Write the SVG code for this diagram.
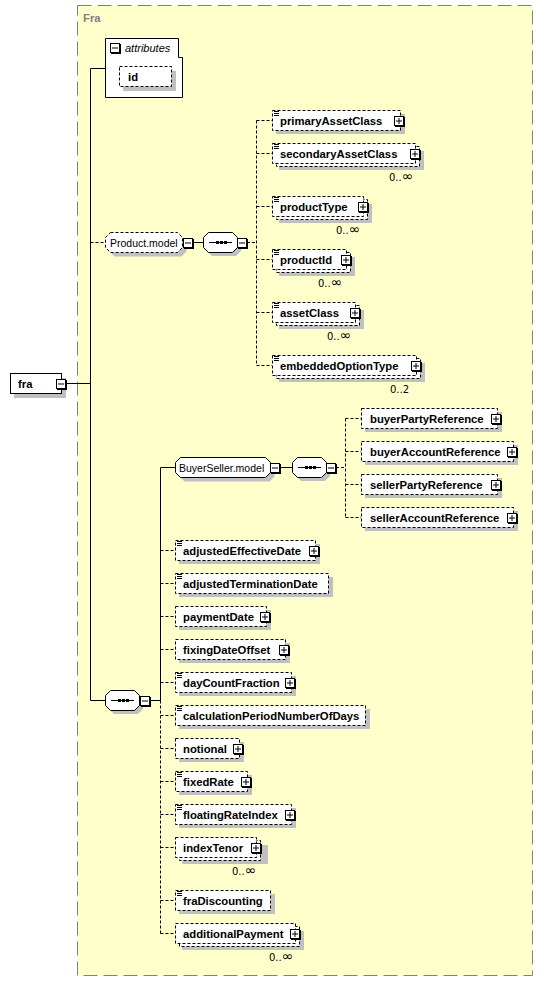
<svg xmlns="http://www.w3.org/2000/svg" width="543" height="981" viewBox="0 0 543 981">
<defs>
<style>
.bg{fill:#ffffcc;stroke:#808080;stroke-dasharray:14 6}
.e{fill:#fff;stroke:#000;stroke-dasharray:3 2}
.s{fill:#fff;stroke:#000}
.sh{fill:#c0c0c0}
.l{fill:none;stroke:#000}
.d{fill:none;stroke:#000;stroke-dasharray:3 2}
.t{font-family:"Liberation Sans",Arial,sans-serif;font-size:11.3px;font-weight:bold;fill:#000}
.n{font-family:"Liberation Sans",Arial,sans-serif;font-size:10.5px;fill:#000}
.o{font-family:"DejaVu Sans","Liberation Sans",sans-serif;font-size:10px;fill:#000}
.inf{font-size:14px}
</style>
<g id="plus"><rect x="1" y="1" width="10" height="10" fill="#000"/><rect x="0.5" y="0.5" width="9" height="9" fill="#fff" stroke="#000"/><path d="M2,5H8M5,2V8" stroke="#000"/></g>
<g id="minus"><rect x="1" y="1" width="10" height="10" fill="#000"/><rect x="0.5" y="0.5" width="9" height="9" fill="#fff" stroke="#000"/><path d="M2,5H8" stroke="#000"/></g>
<path id="eq" d="M0,0.5h5M0,2.5h5M0,4.5h5" stroke="#000"/>
<g id="seq">
<path class="sh" d="M9,4H33L38,9V19L33,24H9L4,19V9Z"/>
<path class="s" d="M5.5,0.5H29.5L34.5,5.5V15.5L29.5,20.5H5.5L0.5,15.5V5.5Z"/>
<path d="M6,10.5H29" stroke="#000"/>
<rect x="13" y="9" width="3" height="3"/><rect x="17" y="9" width="3" height="3"/><rect x="21" y="9" width="3" height="3"/>
</g>
</defs>

<g id="Fra">
<rect class="bg" x="77.5" y="5.5" width="455" height="970"/>
<text x="83" y="22" font-family="Liberation Sans, Arial, sans-serif" font-size="11.3" font-weight="bold" fill="#808080">Fra</text>
</g>

<g id="connectors">
<path class="l" d="M66,383.5H90.5M90.5,68.5V700.5M90.5,68.5H105M90.5,700.5H105"/>
<path class="d" d="M90.5,242.5H105"/>
<path class="l" d="M192,242.5H203"/>
<path class="d" d="M247,242.5H256.5M256.5,120.5V365.5M256.5,120.5H272M256.5,153.5H272M256.5,206.5H272M256.5,259.5H272M256.5,312.5H272M256.5,365.5H272"/>
<path class="l" d="M150,700.5H160.5M160.5,700.5V467.5H175"/>
<path class="d" d="M160.5,700.5V933.5M160.5,550.5H175M160.5,583.5H175M160.5,616.5H175M160.5,649.5H175M160.5,682.5H175M160.5,715.5H175M160.5,748.5H175M160.5,781.5H175M160.5,814.5H175M160.5,847.5H175M160.5,900.5H175M160.5,933.5H175"/>
<path class="l" d="M280,467.5H292"/>
<path class="d" d="M336,467.5H345.5M345.5,418.5V517.5M345.5,418.5H361M345.5,451.5H361M345.5,484.5H361M345.5,517.5H361"/>
</g>

<g id="fra">
<rect class="sh" x="14" y="378" width="52" height="20"/>
<rect class="s" x="10.5" y="373.5" width="51" height="20"/>
<text class="t" x="18" y="388">fra</text>
<use href="#minus" x="56" y="379"/>
</g>

<g id="attributes">
<path class="s" d="M105.5,38.5H178.5V57.5H182.5V97.5H105.5Z"/>
<use href="#minus" x="110" y="43"/>
<text x="125" y="52" font-family="Liberation Sans, Arial, sans-serif" font-size="11" font-style="italic">attributes</text>
</g>
<g id="id">
<rect class="sh" x="123" y="71" width="53" height="20"/>
<rect class="e" x="119.5" y="66.5" width="52" height="20"/>
<text class="t" x="128" y="80.5">id</text>
</g>

<g id="Product.model">
<path class="sh" d="M114.5,236.5H181.5L186.5,241.5V251.5L181.5,256.5H114.5L109.5,251.5V241.5Z"/>
<path class="e" d="M110.5,232.5H177.5L182.5,237.5V247.5L177.5,252.5H110.5L105.5,247.5V237.5Z"/>
<text class="n" x="110" y="246.5">Product.model</text>
<use href="#minus" x="183" y="238"/>
</g>
<g id="Product.model.sequence">
<use href="#seq" x="203" y="232"/>
<use href="#minus" x="237" y="238"/>
</g>

<g id="primaryAssetClass">
<rect class="sh" x="276" y="114" width="129" height="20"/>
<rect class="e" x="272.5" y="110.5" width="128" height="20"/>
<use href="#eq" x="274" y="111"/>
<text class="t" x="280" y="124.5">primaryAssetClass</text>
<use href="#plus" x="394" y="116"/>
</g>
<g id="secondaryAssetClass">
<rect class="sh" x="279" y="151" width="145" height="19"/>
<rect class="e" x="276.5" y="146.5" width="143" height="20"/>
<rect class="e" x="272.5" y="143.5" width="143" height="20"/>
<use href="#eq" x="274" y="144"/>
<text class="t" x="280" y="157.5">secondaryAssetClass</text>
<use href="#plus" x="410" y="149"/>
<text class="o" x="389" y="181">0..<tspan class="inf">∞</tspan></text>
</g>
<g id="productType">
<rect class="sh" x="279" y="204" width="93" height="19"/>
<rect class="e" x="276.5" y="199.5" width="91" height="20"/>
<rect class="e" x="272.5" y="196.5" width="91" height="20"/>
<use href="#eq" x="274" y="197"/>
<text class="t" x="280" y="210.5">productType</text>
<use href="#plus" x="358" y="202"/>
<text class="o" x="336" y="234">0..<tspan class="inf">∞</tspan></text>
</g>
<g id="productId">
<rect class="sh" x="279" y="257" width="76" height="19"/>
<rect class="e" x="276.5" y="252.5" width="74" height="20"/>
<rect class="e" x="272.5" y="249.5" width="74" height="20"/>
<use href="#eq" x="274" y="250"/>
<text class="t" x="280" y="263.5">productId</text>
<use href="#plus" x="341" y="255"/>
<text class="o" x="318" y="287">0..<tspan class="inf">∞</tspan></text>
</g>
<g id="assetClass">
<rect class="sh" x="279" y="310" width="85" height="19"/>
<rect class="e" x="276.5" y="305.5" width="83" height="20"/>
<rect class="e" x="272.5" y="302.5" width="83" height="20"/>
<use href="#eq" x="274" y="303"/>
<text class="t" x="280" y="316.5">assetClass</text>
<use href="#plus" x="350" y="308"/>
<text class="o" x="327" y="340">0..<tspan class="inf">∞</tspan></text>
</g>
<g id="embeddedOptionType">
<rect class="sh" x="279" y="363" width="146" height="19"/>
<rect class="e" x="276.5" y="358.5" width="144" height="20"/>
<rect class="e" x="272.5" y="355.5" width="144" height="20"/>
<use href="#eq" x="274" y="356"/>
<text class="t" x="280" y="369.5">embeddedOptionType</text>
<use href="#plus" x="411" y="361"/>
<text class="o" x="390" y="393">0..2</text>
</g>

<g id="sequence">
<use href="#seq" x="105" y="690"/>
<use href="#minus" x="140" y="696"/>
</g>

<g id="BuyerSeller.model">
<path class="sh" d="M184.5,461.5H269.5L274.5,466.5V476.5L269.5,481.5H184.5L179.5,476.5V466.5Z"/>
<path class="s" d="M180.5,457.5H265.5L270.5,462.5V472.5L265.5,477.5H180.5L175.5,472.5V462.5Z"/>
<text class="n" x="179" y="471.5">BuyerSeller.model</text>
<use href="#minus" x="270" y="463"/>
</g>
<g id="BuyerSeller.model.sequence">
<use href="#seq" x="292" y="457"/>
<use href="#minus" x="326" y="463"/>
</g>

<g id="buyerPartyReference">
<rect class="sh" x="365" y="412" width="137" height="20"/>
<rect class="e" x="361.5" y="408.5" width="136" height="20"/>
<text class="t" x="370" y="422.5">buyerPartyReference</text>
<use href="#plus" x="491" y="414"/>
</g>
<g id="buyerAccountReference">
<rect class="sh" x="365" y="445" width="153" height="20"/>
<rect class="e" x="361.5" y="441.5" width="152" height="20"/>
<text class="t" x="370" y="455.5">buyerAccountReference</text>
<use href="#plus" x="507" y="447"/>
</g>
<g id="sellerPartyReference">
<rect class="sh" x="365" y="478" width="137" height="20"/>
<rect class="e" x="361.5" y="474.5" width="136" height="20"/>
<text class="t" x="370" y="488.5">sellerPartyReference</text>
<use href="#plus" x="491" y="480"/>
</g>
<g id="sellerAccountReference">
<rect class="sh" x="365" y="511" width="153" height="20"/>
<rect class="e" x="361.5" y="507.5" width="152" height="20"/>
<text class="t" x="370" y="521.5">sellerAccountReference</text>
<use href="#plus" x="507" y="513"/>
</g>

<g id="adjustedEffectiveDate">
<rect class="sh" x="179" y="544" width="141" height="20"/>
<rect class="e" x="175.5" y="540.5" width="140" height="20"/>
<use href="#eq" x="177" y="541"/>
<text class="t" x="183" y="554.5">adjustedEffectiveDate</text>
<use href="#plus" x="309" y="546"/>
</g>
<g id="adjustedTerminationDate">
<rect class="sh" x="179" y="577" width="154" height="20"/>
<rect class="e" x="175.5" y="573.5" width="153" height="20"/>
<use href="#eq" x="177" y="574"/>
<text class="t" x="183" y="587.5">adjustedTerminationDate</text>
</g>
<g id="paymentDate">
<rect class="sh" x="179" y="610" width="92" height="20"/>
<rect class="e" x="175.5" y="606.5" width="91" height="20"/>
<text class="t" x="183" y="620.5">paymentDate</text>
<use href="#plus" x="260" y="612"/>
</g>
<g id="fixingDateOffset">
<rect class="sh" x="179" y="643" width="111" height="20"/>
<rect class="e" x="175.5" y="639.5" width="110" height="20"/>
<text class="t" x="183" y="653.5">fixingDateOffset</text>
<use href="#plus" x="279" y="645"/>
</g>
<g id="dayCountFraction">
<rect class="sh" x="179" y="676" width="117" height="20"/>
<rect class="e" x="175.5" y="672.5" width="116" height="20"/>
<use href="#eq" x="177" y="673"/>
<text class="t" x="183" y="686.5">dayCountFraction</text>
<use href="#plus" x="285" y="678"/>
</g>
<g id="calculationPeriodNumberOfDays">
<rect class="sh" x="179" y="709" width="191" height="20"/>
<rect class="e" x="175.5" y="705.5" width="190" height="20"/>
<use href="#eq" x="177" y="706"/>
<text class="t" x="183" y="719.5">calculationPeriodNumberOfDays</text>
</g>
<g id="notional">
<rect class="sh" x="179" y="742" width="65" height="20"/>
<rect class="e" x="175.5" y="738.5" width="64" height="20"/>
<text class="t" x="183" y="752.5">notional</text>
<use href="#plus" x="233" y="744"/>
</g>
<g id="fixedRate">
<rect class="sh" x="179" y="775" width="73" height="20"/>
<rect class="e" x="175.5" y="771.5" width="72" height="20"/>
<use href="#eq" x="177" y="772"/>
<text class="t" x="183" y="785.5">fixedRate</text>
<use href="#plus" x="241" y="777"/>
</g>
<g id="floatingRateIndex">
<rect class="sh" x="179" y="808" width="117" height="20"/>
<rect class="e" x="175.5" y="804.5" width="116" height="20"/>
<use href="#eq" x="177" y="805"/>
<text class="t" x="183" y="818.5">floatingRateIndex</text>
<use href="#plus" x="285" y="810"/>
</g>
<g id="indexTenor">
<rect class="sh" x="182" y="845" width="86" height="19"/>
<rect class="e" x="179.5" y="840.5" width="81" height="20"/>
<rect class="e" x="175.5" y="837.5" width="81" height="20"/>
<text class="t" x="183" y="851.5">indexTenor</text>
<use href="#plus" x="251" y="843"/>
<text class="o" x="232" y="875">0..<tspan class="inf">∞</tspan></text>
</g>
<g id="fraDiscounting">
<rect class="sh" x="179" y="894" width="96" height="20"/>
<rect class="e" x="175.5" y="890.5" width="95" height="20"/>
<use href="#eq" x="177" y="891"/>
<text class="t" x="183" y="904.5">fraDiscounting</text>
</g>
<g id="additionalPayment">
<rect class="sh" x="182" y="931" width="122" height="19"/>
<rect class="e" x="179.5" y="926.5" width="120" height="20"/>
<rect class="e" x="175.5" y="923.5" width="120" height="20"/>
<text class="t" x="183" y="937.5">additionalPayment</text>
<use href="#plus" x="290" y="929"/>
<text class="o" x="269" y="961">0..<tspan class="inf">∞</tspan></text>
</g>
</svg>
